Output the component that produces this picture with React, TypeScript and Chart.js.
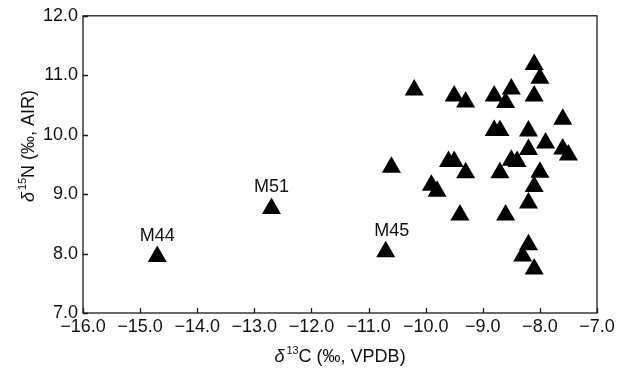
import React, { useEffect, useRef } from "react";
import { Chart, registerables } from "chart.js";

Chart.register(...registerables);

// δ13C (‰, VPDB) of unlabeled samples
const carbon = [
  -10.2, -9.5, -9.3, -8.8, -8.5, -8.6, -8.1, -8.0, -8.1, -7.6,
  -8.8, -8.7, -8.2, -7.9, -8.2, -7.6, -7.5, -9.6, -9.5, -10.6,
  -9.3, -8.5, -8.4, -8.7, -8.0, -8.1, -9.9, -9.8, -8.2, -9.4,
  -8.6, -8.2, -8.3, -8.1,
];
// δ15N (‰, AIR) of unlabeled samples
const nitrogen = [
  10.75, 10.65, 10.55, 10.65, 10.77, 10.54, 11.18, 10.95, 10.65, 10.26,
  10.07, 10.07, 10.06, 9.86, 9.75, 9.76, 9.66, 9.55, 9.55, 9.45,
  9.36, 9.57, 9.55, 9.36, 9.37, 9.13, 9.15, 9.05, 8.85, 8.65,
  8.65, 8.15, 7.96, 7.74,
];

// labeled samples
const labelNames = ["M44", "M51", "M45"];
const labelCarbon = [-14.7, -12.7, -10.7];
const labelNitrogen = [7.95, 8.76, 8.03];

const xTicks = [-16, -15, -14, -13, -12, -11, -10, -9, -8, -7];
const yTicks = [7, 8, 9, 10, 11, 12];

const FONT = "'Liberation Sans', Arial, sans-serif";
const fmt = (v: number) => (v < 0 ? "\u2212" + Math.abs(v).toFixed(1) : v.toFixed(1));

const framePlugin = {
  id: "frame",
  afterDraw(chart: any) {
    const { ctx, chartArea } = chart;
    const xs = chart.scales.x;
    const ys = chart.scales.y;
    const { left, right, top, bottom } = chartArea;
    ctx.save();
    ctx.strokeStyle = "#1a1a1a";
    ctx.lineWidth = 1.3;
    ctx.strokeRect(left, top, right - left, bottom - top);
    ctx.beginPath();
    xTicks.forEach((t) => {
      const px = Math.round(xs.getPixelForValue(t)) + 0.5;
      ctx.moveTo(px, bottom);
      ctx.lineTo(px, bottom - 5);
    });
    yTicks.forEach((t) => {
      const py = Math.round(ys.getPixelForValue(t)) + 0.5;
      ctx.moveTo(left, py);
      ctx.lineTo(left + 5, py);
    });
    ctx.stroke();

    // point labels
    ctx.fillStyle = "#111";
    ctx.font = `18px ${FONT}`;
    ctx.textAlign = "center";
    ctx.textBaseline = "alphabetic";
    labelNames.forEach((n, i) => {
      const px = xs.getPixelForValue(labelCarbon[i]);
      const py = ys.getPixelForValue(labelNitrogen[i]);
      ctx.fillText(n, px + (i === 2 ? 6 : 0), py - 16);
    });

    // axis title helper: δ + superscript + rest
    const drawTitle = (sup: string, rest: string) => {
      ctx.font = `italic 18px ${FONT}`;
      const wd = ctx.measureText("\u03b4").width;
      ctx.font = `11px ${FONT}`;
      const ws = ctx.measureText(sup).width;
      ctx.font = `18px ${FONT}`;
      const wr = ctx.measureText(rest).width;
      const total = wd + 2 + ws + wr;
      let x = -total / 2;
      ctx.textAlign = "left";
      ctx.textBaseline = "alphabetic";
      ctx.font = `italic 18px ${FONT}`;
      ctx.fillText("\u03b4", x, 6);
      x += wd + 2;
      ctx.font = `11px ${FONT}`;
      ctx.fillText(sup, x, -2);
      x += ws;
      ctx.font = `18px ${FONT}`;
      ctx.fillText(rest, x, 6);
    };

    ctx.save();
    ctx.translate((left + right) / 2, 356);
    drawTitle("13", "C (\u2030, VPDB)");
    ctx.restore();

    ctx.save();
    ctx.translate(28, 146);
    ctx.rotate(-Math.PI / 2);
    drawTitle("15", "N (\u2030, AIR)");
    ctx.restore();

    ctx.restore();
  },
};

export default function App() {
  const ref = useRef<HTMLCanvasElement | null>(null);
  useEffect(() => {
    if (!ref.current) return;
    const pts = carbon.map((c, i) => ({ x: c, y: nitrogen[i] }));
    const lpts = labelCarbon.map((c, i) => ({ x: c, y: labelNitrogen[i] }));
    const style = {
      pointStyle: "triangle" as const,
      pointRadius: 11,
      pointHoverRadius: 11,
      backgroundColor: "#000",
      borderColor: "#000",
      borderWidth: 0,
      showLine: false,
    };
    const chart = new Chart(ref.current, {
      type: "scatter",
      data: {
        datasets: [
          { data: pts, ...style },
          { data: lpts, ...style },
        ],
      },
      options: {
        animation: false,
        responsive: false,
        devicePixelRatio: 1,
        events: [],
        layout: { padding: { left: 0, right: 25, top: 11, bottom: 0 } },
        plugins: { legend: { display: false }, tooltip: { enabled: false } },
        scales: {
          x: {
            type: "linear",
            min: -16,
            max: -7,
            afterBuildTicks: (s: any) => {
              s.ticks = xTicks.map((v) => ({ value: v }));
            },
            afterFit: (s: any) => {
              s.height = 60;
            },
            grid: { display: false, drawTicks: false },
            border: { display: false },
            ticks: {
              padding: 3,
              color: "#111",
              font: { family: FONT, size: 18 },
              callback: (v: any) => fmt(Number(v)),
              maxRotation: 0,
              autoSkip: false,
            },
          },
          y: {
            type: "linear",
            min: 7,
            max: 12,
            afterBuildTicks: (s: any) => {
              s.ticks = yTicks.map((v) => ({ value: v }));
            },
            afterFit: (s: any) => {
              s.width = 83;
            },
            grid: { display: false, drawTicks: false },
            border: { display: false },
            ticks: {
              padding: 5,
              color: "#111",
              font: { family: FONT, size: 18 },
              callback: (v: any) => fmt(Number(v)),
              autoSkip: false,
            },
          },
        },
      },
      plugins: [framePlugin],
    });
    return () => chart.destroy();
  }, []);
  return (
    <div style={{ position: "fixed", left: 0, top: 0, width: 622, height: 373, background: "#fff" }}>
      <canvas ref={ref} width={622} height={373} style={{ width: 622, height: 373, display: "block" }} />
    </div>
  );
}
